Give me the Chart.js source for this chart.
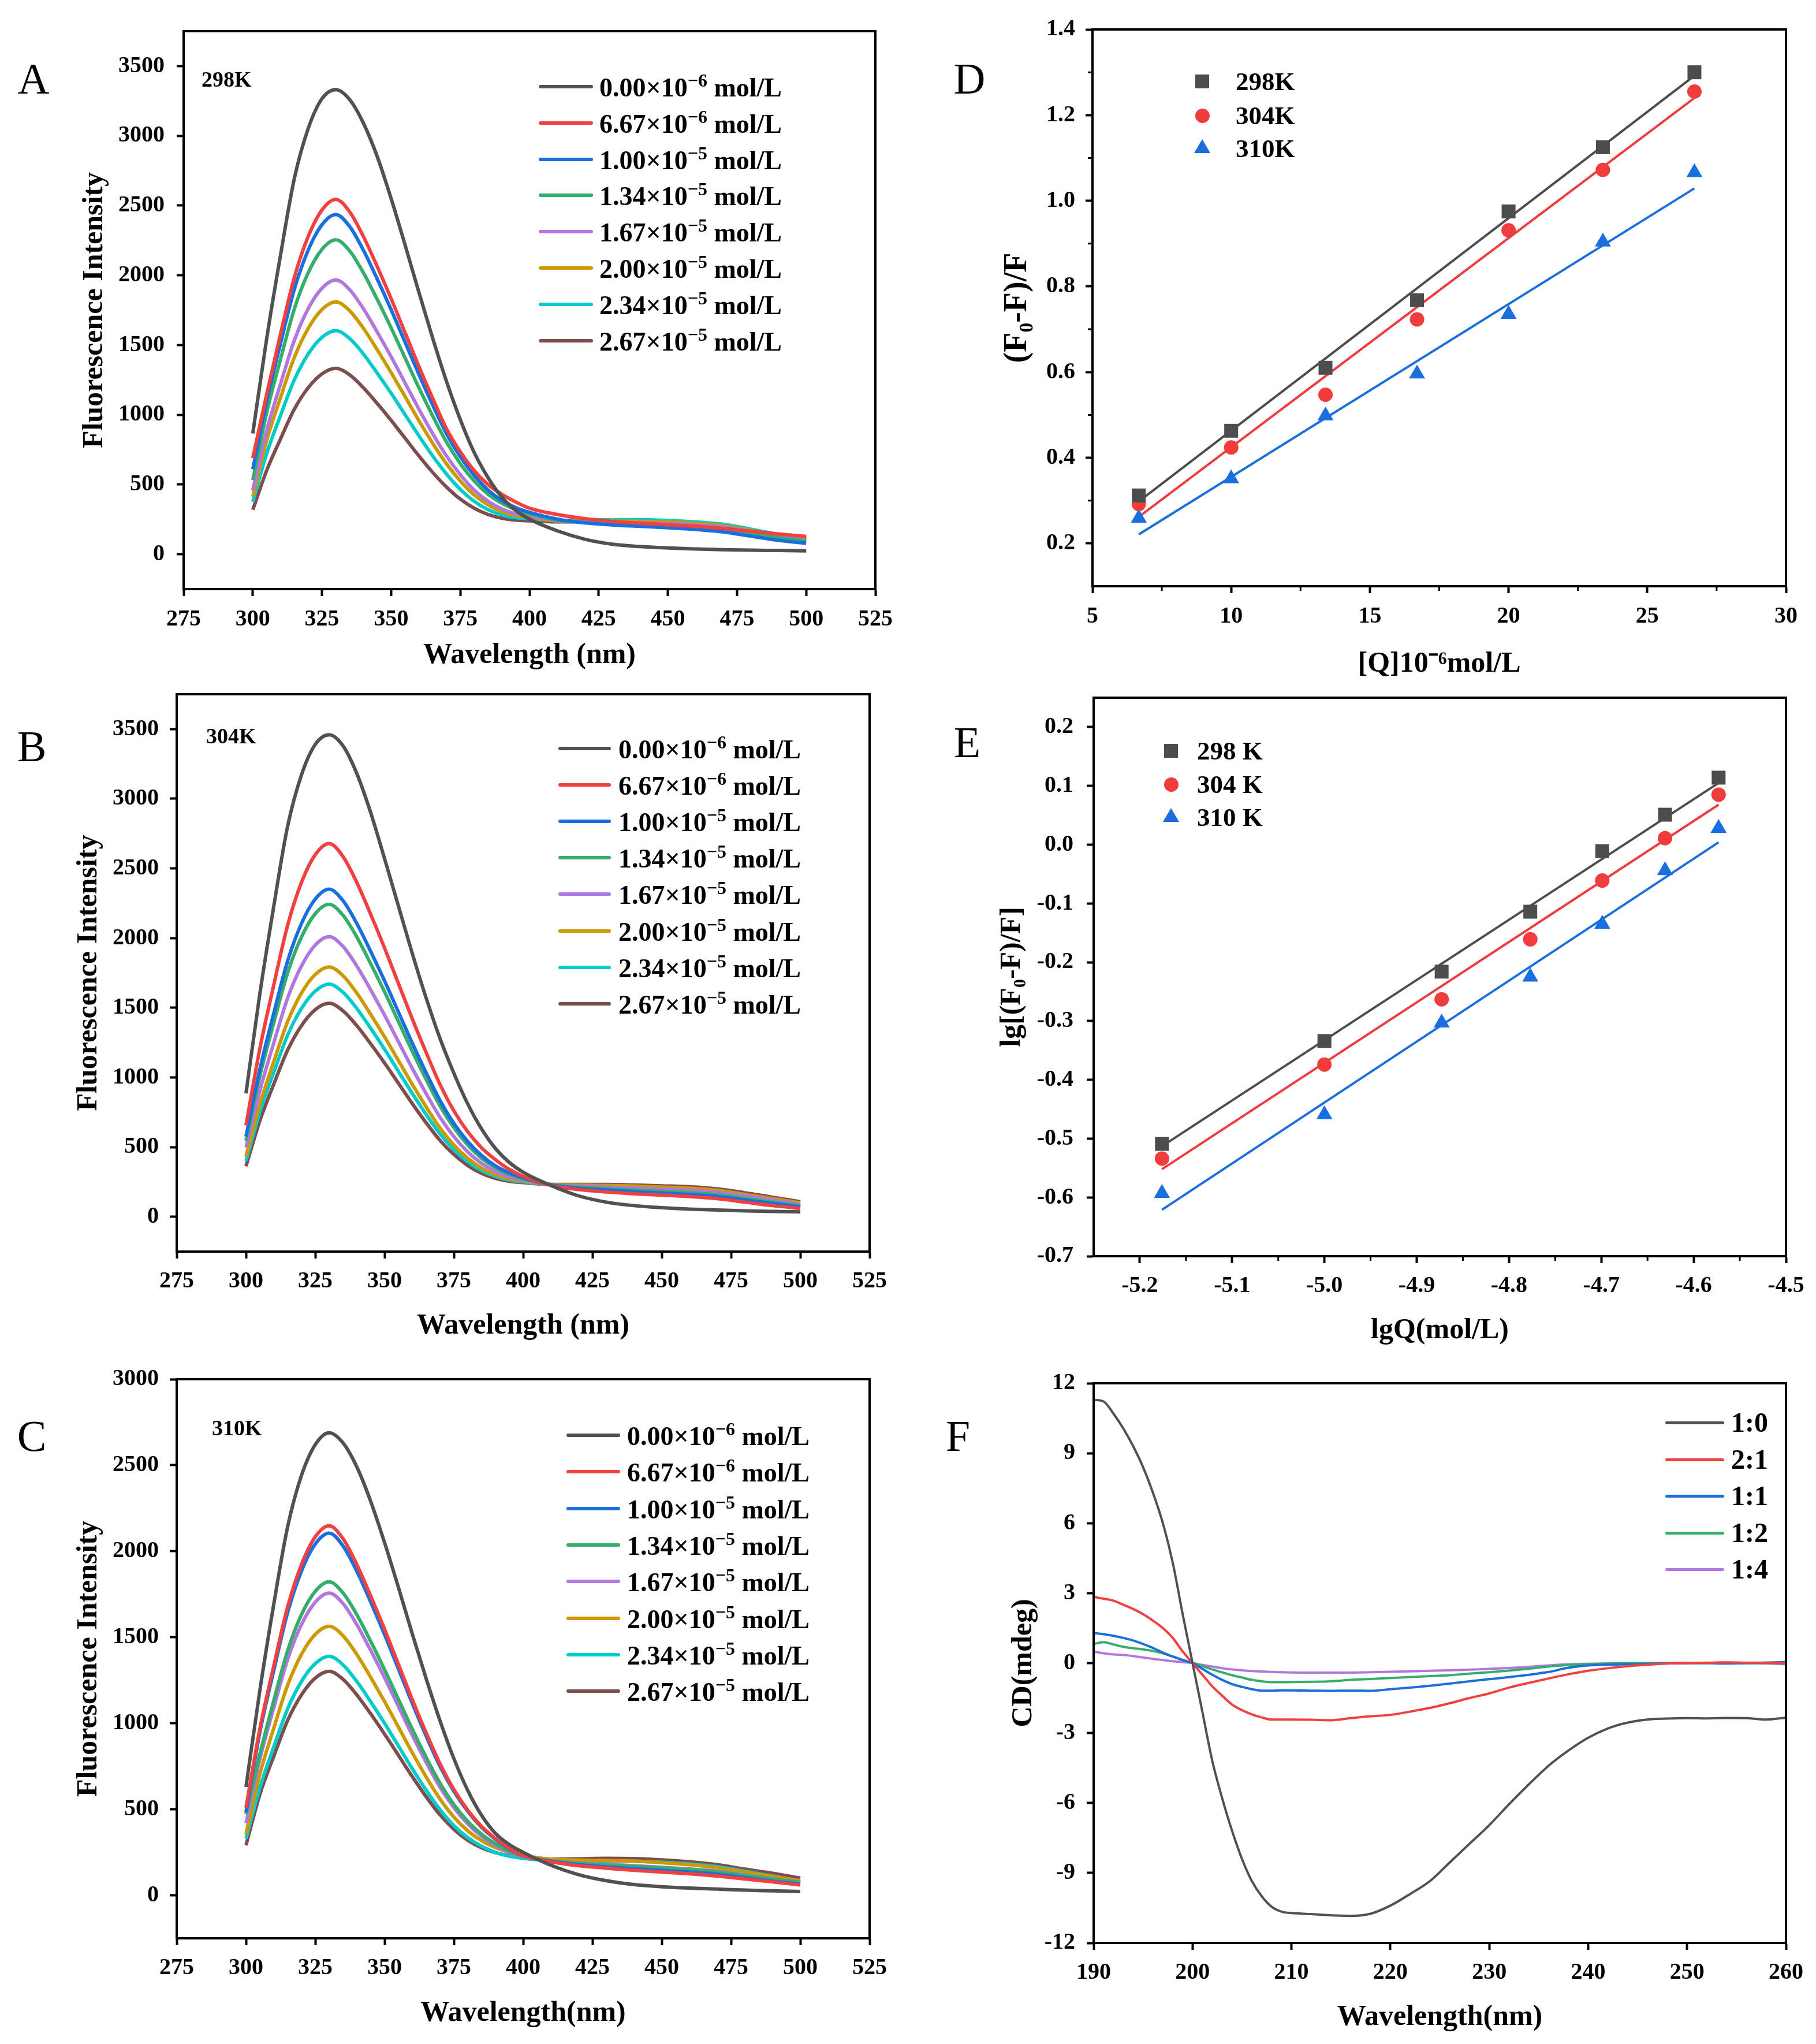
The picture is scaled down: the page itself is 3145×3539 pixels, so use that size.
<!DOCTYPE html>
<html>
<head>
<meta charset="utf-8">
<script src="https://cdn.jsdelivr.net/npm/chart.js@4.4.0/dist/chart.umd.min.js"></script>
<style>
  body { margin: 0; background: #fff; }
  #page { position: relative; width: 3145px; height: 3539px; background: #fff; overflow: hidden;
          font-family: "Liberation Serif", "Times New Roman", serif; color: #000; }
  #page canvas { position: absolute; }
  .lbl { position: absolute; white-space: nowrap; line-height: 1; }
  .letter { font-size: 76px; font-weight: normal; transform: translate(-50%, -50%); }
  .temp { font-size: 38px; font-weight: bold; transform: translateY(-50%); }
  .lg { font-size: 46px; font-weight: bold; transform: translateY(-50%); }
  .lg sup { font-size: 32px; vertical-align: baseline; position: relative; top: -17px; }
  .lgs { font-size: 45px; font-weight: bold; transform: translateY(-50%); }
  .lgf { font-size: 48px; font-weight: bold; transform: translateY(-50%); }
</style>
</head>
<body>
<div id="page"></div>
<script>
// ===== DATA =====

// fluorescence spectra, wavelength in nm
const WL = [300, 305, 310, 315, 320, 325, 330, 335, 340, 345, 350, 355, 360, 365, 370, 375, 380, 385, 390, 395,
            400, 410, 420, 430, 440, 450, 460, 470, 480, 490, 500];

const CONC_MANT = ['0.00', '6.67', '1.00', '1.34', '1.67', '2.00', '2.34', '2.67'];
const CONC_EXP  = ['−6', '−6', '−5', '−5', '−5', '−5', '−5', '−5'];

// 298 K
const T298_0 = [866,1543,2142,2692,3051,3266,3331,3260,3090,2850,2550,2220,1880,1550,1240,965,730,550,410,315, 252,168,108,72,55,45,38,33,29,27,24];
const T298_1 = [689,1145,1577,1984,2277,2468,2544,2455,2277,2061,1832,1590,1348,1119,900,735,600,500,430,375, 330,285,255,235,222,212,200,185,165,145,128];
const T298_2 = [610,1096,1510,1899,2179,2362,2435,2350,2179,1972,1753,1522,1291,1071,865,700,565,460,385,335, 300,252,225,210,200,190,178,160,130,100,78];
const T298_3 = [532,1014,1397,1758,2017,2186,2254,2175,2017,1826,1623,1409,1195,992,805,650,525,430,365,320, 290,245,228,220,215,208,198,182,150,120,95];
const T298_4 = [460,885,1219,1533,1760,1907,1966,1897,1760,1592,1416,1229,1042,865,705,570,460,380,325,290, 275,240,232,228,225,220,210,195,165,130,100];
const T298_5 = [413,814,1122,1411,1619,1755,1809,1746,1619,1465,1302,1131,959,796,648,525,425,355,305,278, 265,240,238,238,236,232,222,205,172,138,108];
const T298_6 = [376,721,994,1250,1435,1555,1603,1547,1435,1298,1154,1002,850,705,575,465,380,320,282,262, 255,242,245,248,248,242,232,215,180,140,100];
const T298_7 = [319,600,826,1040,1193,1293,1333,1286,1193,1080,960,833,706,587,482,395,330,285,258,245, 240,232,235,238,238,232,222,205,170,138,115];

// 304 K
const T304_0 = [885,1600,2225,2800,3170,3390,3459,3380,3180,2900,2570,2230,1890,1570,1280,1030,810,630,490,390, 320,225,150,105,80,65,55,48,42,38,35];
const T304_1 = [656,1206,1661,2090,2398,2599,2679,2585,2398,2170,1929,1674,1420,1179,950,760,610,495,410,340, 290,225,195,178,165,155,145,130,105,80,60];
const T304_2 = [576,1058,1458,1834,2104,2280,2351,2269,2104,1904,1693,1469,1246,1034,835,670,540,440,365,315, 280,228,205,192,180,170,160,145,120,95,70];
const T304_3 = [545,1009,1390,1749,2007,2175,2242,2164,2007,1816,1614,1401,1188,986,796,640,515,420,352,305, 272,230,212,200,190,182,172,158,132,105,80];
const T304_4 = [497,905,1246,1568,1799,1950,2010,1940,1799,1628,1447,1256,1065,884,714,575,465,383,325,285, 262,230,220,212,205,198,190,176,150,120,90];
const T304_5 = [433,807,1112,1399,1605,1739,1793,1730,1605,1452,1291,1121,950,789,637,515,420,350,302,272, 255,232,228,225,220,213,205,190,160,130,100];
const T304_6 = [401,751,1035,1302,1494,1619,1669,1611,1494,1352,1202,1043,885,734,595,482,395,332,290,264, 250,230,222,215,210,205,198,184,155,118,80];
const T304_7 = [363,689,950,1195,1371,1486,1532,1478,1371,1241,1103,958,812,674,548,447,368,312,276,255, 245,232,232,232,228,222,215,200,172,140,108];

// 310 K
const T310_0 = [630,1190,1690,2140,2440,2620,2689,2630,2490,2290,2050,1790,1520,1260,1015,795,610,465,360,295, 250,175,120,85,62,50,42,36,30,26,22];
const T310_1 = [509,967,1332,1675,1922,2084,2148,2073,1922,1740,1547,1343,1138,945,765,615,495,400,330,272, 230,195,172,158,145,135,125,112,95,78,60];
const T310_2 = [484,947,1305,1642,1884,2042,2105,2031,1884,1705,1516,1316,1116,926,750,605,488,395,326,270, 230,198,178,165,155,145,135,122,102,82,65];
const T310_3 = [471,820,1130,1421,1631,1767,1822,1758,1631,1476,1312,1139,966,802,652,528,430,355,300,258, 228,200,185,175,168,160,150,136,115,95,75];
const T310_4 = [419,791,1089,1370,1573,1704,1757,1696,1573,1423,1265,1098,931,773,628,510,415,343,290,250, 225,200,188,180,172,163,153,140,118,97,78];
const T310_5 = [355,704,970,1220,1400,1517,1564,1509,1400,1267,1126,978,829,688,560,455,375,318,278,250, 232,210,205,202,198,190,178,160,135,110,85];
const T310_6 = [329,625,861,1083,1243,1347,1389,1340,1243,1125,1000,868,736,611,498,405,335,285,250,227, 215,202,200,200,198,192,182,166,140,112,80];
const T310_7 = [291,586,807,1016,1165,1263,1302,1256,1165,1055,937,814,690,573,468,384,320,276,248,230, 222,210,212,215,213,206,195,178,152,128,100];

const FL_X_TICKS = [275, 300, 325, 350, 375, 400, 425, 450, 475, 500, 525];
const FL_Y_TICKS_AB = [0, 500, 1000, 1500, 2000, 2500, 3000, 3500];
const FL_Y_TICKS_C = [0, 500, 1000, 1500, 2000, 2500, 3000];

// Stern-Volmer plot
const D_X = [6.67, 10.0, 13.4, 16.7, 20.0, 23.4, 26.7];
const D_298 = [0.312, 0.463, 0.610, 0.768, 0.975, 1.125, 1.300];
const D_304 = [0.292, 0.424, 0.547, 0.723, 0.931, 1.072, 1.255];
const D_310 = [0.259, 0.351, 0.498, 0.596, 0.735, 0.904, 1.066];
const D_FIT_X = [6.67, 26.7];
const D_FIT_298 = [0.298, 1.292];
const D_FIT_304 = [0.262, 1.240];
const D_FIT_310 = [0.221, 1.029];
const D_X_TICKS = [5, 10, 15, 20, 25, 30];
const D_Y_TICKS = [0.2, 0.4, 0.6, 0.8, 1.0, 1.2, 1.4];
const D_LABELS = ['298K', '304K', '310K'];

// double-log plot
const E_X = [-5.176, -5.000, -4.873, -4.777, -4.699, -4.631, -4.573];
const E_298 = [-0.509, -0.334, -0.216, -0.114, -0.011, 0.051, 0.114];
const E_304 = [-0.534, -0.374, -0.263, -0.161, -0.061, 0.011, 0.085];
const E_310 = [-0.593, -0.459, -0.303, -0.225, -0.135, -0.044, 0.028];
const E_FIT_X = [-5.176, -4.573];
const E_FIT_298 = [-0.513, 0.105];
const E_FIT_304 = [-0.552, 0.068];
const E_FIT_310 = [-0.621, 0.004];
const E_X_TICKS = [-5.2, -5.1, -5.0, -4.9, -4.8, -4.7, -4.6, -4.5];
const E_Y_TICKS = [-0.7, -0.6, -0.5, -0.4, -0.3, -0.2, -0.1, 0.0, 0.1, 0.2];
const E_LABELS = ['298 K', '304 K', '310 K'];

// CD spectra
const CD_WL = [190,191,192,193,194,195,196,197,198,199,200,201,202,203,204,205,206,207,208,209,210,
               212,214,216,218,220,222,224,226,228,230,232,234,236,238,240,242,244,246,248,250,252,254,256,258,260];
const CD_1_0 = [11.29,11.22,10.7,10.06,9.3,8.4,7.3,6.0,4.3,2.1,0.0,-2.1,-4.2,-5.8,-7.2,-8.4,-9.35,-10.0,-10.45,-10.66,-10.72,
                -10.76,-10.82,-10.84,-10.75,-10.4,-9.9,-9.35,-8.55,-7.75,-6.95,-6.05,-5.2,-4.4,-3.75,-3.2,-2.8,-2.55,-2.42,-2.38,-2.36,-2.37,-2.35,-2.36,-2.42,-2.34];
const CD_2_1 = [2.84,2.76,2.68,2.5,2.32,2.1,1.82,1.5,1.08,0.5,0.0,-0.5,-1.0,-1.4,-1.78,-2.02,-2.2,-2.33,-2.42,-2.42,-2.42,
                -2.43,-2.45,-2.36,-2.28,-2.22,-2.08,-1.92,-1.72,-1.5,-1.3,-1.05,-0.85,-0.66,-0.48,-0.33,-0.22,-0.13,-0.07,-0.02,0.0,0.01,0.03,0.02,0.02,0.0];
const CD_1_1 = [1.29,1.24,1.17,1.08,0.97,0.82,0.65,0.45,0.28,0.13,0.0,-0.25,-0.5,-0.72,-0.9,-1.02,-1.12,-1.18,-1.18,-1.17,-1.17,
                -1.18,-1.19,-1.18,-1.19,-1.12,-1.05,-0.97,-0.88,-0.78,-0.69,-0.6,-0.5,-0.38,-0.2,-0.1,-0.07,-0.05,-0.03,-0.01,0.0,0.0,-0.02,0.0,0.02,0.05];
const CD_1_2 = [0.82,0.9,0.8,0.7,0.64,0.59,0.52,0.42,0.28,0.13,0.0,-0.13,-0.27,-0.4,-0.52,-0.62,-0.72,-0.78,-0.82,-0.82,-0.81,
                -0.8,-0.78,-0.72,-0.68,-0.64,-0.6,-0.56,-0.52,-0.45,-0.39,-0.32,-0.24,-0.15,-0.08,-0.05,-0.02,0.0,0.0,0.0,0.0,0.0,0.0,0.0,0.0,0.0];
const CD_1_4 = [0.5,0.42,0.37,0.35,0.3,0.24,0.18,0.13,0.08,0.04,0.0,-0.08,-0.15,-0.22,-0.27,-0.31,-0.34,-0.36,-0.38,-0.39,-0.4,
                -0.41,-0.41,-0.41,-0.39,-0.37,-0.35,-0.33,-0.31,-0.28,-0.25,-0.21,-0.16,-0.1,-0.05,-0.03,-0.02,-0.02,-0.01,0.0,0.0,0.02,0.02,0.0,-0.02,-0.05];
const CD_LABELS = ['1:0', '2:1', '1:1', '1:2', '1:4'];
const CD_X_TICKS = [190, 200, 210, 220, 230, 240, 250, 260];
const CD_Y_TICKS = [-12, -9, -6, -3, 0, 3, 6, 9, 12];

// Origin-like palette
const COLORS = ['#515151', '#F14040', '#1A6FDF', '#37AD6B', '#B177DE', '#CC9900', '#00CBCC', '#7D4E4E'];

// ===== DRAWING =====

const page = document.getElementById('page');
const FONT = '"Liberation Serif", "Times New Roman", serif';
Chart.defaults.font.family = FONT;
Chart.defaults.color = '#000';

// box round the plot + minor ticks
const frame = {
  id: 'frame',
  afterDraw(chart, args, opts) {
    const { ctx, chartArea: a } = chart;
    ctx.save();
    ctx.strokeStyle = '#000';
    ctx.lineWidth = 4;
    ctx.strokeRect(a.left, a.top, a.right - a.left, a.bottom - a.top);
    ctx.lineWidth = 3;
    ctx.beginPath();
    (opts.minorX || []).forEach(v => {
      const p = chart.scales.x.getPixelForValue(v);
      ctx.moveTo(p, a.bottom); ctx.lineTo(p, a.bottom + 8);
    });
    (opts.minorY || []).forEach(v => {
      const p = chart.scales.y.getPixelForValue(v);
      ctx.moveTo(a.left, p); ctx.lineTo(a.left - 8, p);
    });
    ctx.stroke();
    ctx.restore();
  },
};

const TL = 12, TICK_SIZE = 40;

function panel(s) {
  const cv = document.createElement('canvas');
  cv.width = s.box.w; cv.height = s.box.h;
  cv.style.left = s.box.x + 'px'; cv.style.top = s.box.y + 'px';
  cv.style.width = s.box.w + 'px'; cv.style.height = s.box.h + 'px';
  page.appendChild(cv);

  const yTS = s.yTitleSize || 50, xTS = s.xTitleSize || 50;
  const padL = s.yTitleX - yTS * 0.6 - s.box.x;
  const yW = s.plot.l - s.box.x - padL;
  const padT = s.plot.t - s.box.y;
  const padR = s.box.x + s.box.w - s.plot.r;
  const xBottom = s.xTitleY + xTS * 0.6;
  const xH = xBottom - s.plot.b;
  const padB = s.box.y + s.box.h - xBottom;
  const xPad = s.xLabelY - s.plot.b - TL - TICK_SIZE * 0.6;
  const yPad = s.plot.l - s.yLabelR - TL;

  const axis = (o, pad, title, tsize) => ({
    type: 'linear', min: o.min, max: o.max,
    afterBuildTicks: sc => { sc.ticks = o.ticks.map(v => ({ value: v })); },
    ticks: {
      autoSkip: false, maxRotation: 0, padding: pad, color: '#000',
      font: { size: TICK_SIZE, weight: 'bold', family: FONT },
      callback: o.fmt || (v => String(v)),
    },
    grid: { drawOnChartArea: false, drawTicks: true, tickLength: TL, tickWidth: 4, color: '#000', tickColor: '#000' },
    border: { display: true, width: 4, color: '#000' },
    title: { display: true, text: title, color: '#000', padding: 0,
             font: { size: tsize, weight: 'bold', family: FONT, lineHeight: 1.2 } },
  });

  const xAxis = axis(s.x, xPad, s.xTitle, xTS);
  xAxis.afterFit = sc => { sc.height = xH; sc.paddingLeft = 0; sc.paddingRight = 0; };
  const yAxis = axis(s.y, yPad, s.yTitle, yTS);
  yAxis.afterFit = sc => { sc.width = yW; sc.paddingTop = 0; sc.paddingBottom = 0; };

  return new Chart(cv, {
    type: s.type,
    data: { datasets: s.datasets },
    options: {
      responsive: false, animation: false, devicePixelRatio: 1,
      layout: { padding: { left: padL, right: padR, top: padT, bottom: padB } },
      plugins: { legend: { display: false }, tooltip: { enabled: false },
                 frame: { minorX: s.minorX, minorY: s.minorY } },
      scales: { x: xAxis, y: yAxis },
    },
    plugins: [frame],
  });
}

const xy = (xs, ys) => xs.map((x, i) => ({ x, y: ys[i] }));

function spectra(series, widthPx) {
  return series.map((vals, i) => ({
    data: xy(WL, vals), borderColor: COLORS[i], borderWidth: widthPx,
    pointRadius: 0, cubicInterpolationMode: 'monotone', fill: false, order: i,
  }));
}

const flX = { min: 275, max: 525, ticks: FL_X_TICKS };

panel({
  type: 'line',
  box: { x: 0, y: 0, w: 1570, h: 1185 }, plot: { l: 318, r: 1516, t: 54, b: 1020 },
  yTitleX: 164, xTitleY: 1135, xLabelY: 1073, yLabelR: 285,
  x: flX, y: { min: -250, max: 3750, ticks: FL_Y_TICKS_AB },
  xTitle: 'Wavelength (nm)', yTitle: 'Fluorescence Intensity',
  datasets: spectra([T298_0, T298_1, T298_2, T298_3, T298_4, T298_5, T298_6, T298_7], 6),
});

panel({
  type: 'line',
  box: { x: 0, y: 1185, w: 1570, h: 1160 }, plot: { l: 306, r: 1506, t: 1202, b: 2167 },
  yTitleX: 154, xTitleY: 2296, xLabelY: 2219, yLabelR: 275,
  x: flX, y: { min: -250, max: 3750, ticks: FL_Y_TICKS_AB },
  xTitle: 'Wavelength (nm)', yTitle: 'Fluorescence Intensity',
  datasets: spectra([T304_0, T304_1, T304_2, T304_3, T304_4, T304_5, T304_6, T304_7], 6),
});

panel({
  type: 'line',
  box: { x: 0, y: 2345, w: 1570, h: 1194 }, plot: { l: 306, r: 1506, t: 2388, b: 3356 },
  yTitleX: 154, xTitleY: 3486, xLabelY: 3408, yLabelR: 275,
  x: flX, y: { min: -250, max: 3000, ticks: FL_Y_TICKS_C },
  xTitle: 'Wavelength(nm)', yTitle: 'Fluorescence Intensity',
  datasets: spectra([T310_0, T310_1, T310_2, T310_3, T310_4, T310_5, T310_6, T310_7], 6),
});

const MARKERS = [
  { style: 'rect', r: 17, color: '#4D4D4D' },
  { style: 'circle', r: 12.5, color: '#F03C3C' },
  { style: 'triangle', r: 16, color: '#1A6FDF' },
];

function fitPlot(xs, sets, fitX, fits) {
  const ds = [];
  sets.forEach((ys, i) => ds.push({
    data: xy(xs, ys), showLine: false, pointStyle: MARKERS[i].style, pointRadius: MARKERS[i].r,
    backgroundColor: MARKERS[i].color, borderColor: MARKERS[i].color, borderWidth: 0, order: 1,
  }));
  fits.forEach((ys, i) => ds.push({
    data: xy(fitX, ys), showLine: true, pointRadius: 0, borderColor: MARKERS[i].color,
    borderWidth: 4, order: 2,
  }));
  return ds;
}

panel({
  type: 'scatter',
  box: { x: 1570, y: 0, w: 1575, h: 1185 }, plot: { l: 1892, r: 3093, t: 51, b: 1015 },
  yTitleX: 1763, xTitleY: 1150, xLabelY: 1068, yLabelR: 1862, yTitleSize: 56,
  x: { min: 5, max: 30, ticks: D_X_TICKS },
  y: { min: 0.1, max: 1.4, ticks: D_Y_TICKS, fmt: v => v.toFixed(1) },
  minorX: [7.5, 12.5, 17.5, 22.5, 27.5], minorY: [0.3, 0.5, 0.7, 0.9, 1.1, 1.3],
  xTitle: '[Q]10⁻⁶mol/L', yTitle: '(F₀-F)/F',
  datasets: fitPlot(D_X, [D_298, D_304, D_310], D_FIT_X, [D_FIT_298, D_FIT_304, D_FIT_310]),
});

panel({
  type: 'scatter',
  box: { x: 1570, y: 1185, w: 1575, h: 1160 }, plot: { l: 1894, r: 3093, t: 1208, b: 2175 },
  yTitleX: 1753, xTitleY: 2304, xLabelY: 2227, yLabelR: 1859,
  x: { min: -5.25, max: -4.5, ticks: E_X_TICKS, fmt: v => v.toFixed(1) },
  y: { min: -0.7, max: 0.25, ticks: E_Y_TICKS, fmt: v => v.toFixed(1) },
  minorX: [-5.15, -5.05, -4.95, -4.85, -4.75, -4.65, -4.55],
  xTitle: 'lgQ(mol/L)', yTitle: 'lg[(F₀-F)/F]',
  datasets: fitPlot(E_X, [E_298, E_304, E_310], E_FIT_X, [E_FIT_298, E_FIT_304, E_FIT_310]),
});

panel({
  type: 'line',
  box: { x: 1570, y: 2345, w: 1575, h: 1194 }, plot: { l: 1894, r: 3093, t: 2395, b: 3364 },
  yTitleX: 1773, xTitleY: 3493, xLabelY: 3416, yLabelR: 1862,
  x: { min: 190, max: 260, ticks: CD_X_TICKS },
  y: { min: -12, max: 12, ticks: CD_Y_TICKS },
  xTitle: 'Wavelength(nm)', yTitle: 'CD(mdeg)',
  datasets: [CD_1_0, CD_2_1, CD_1_1, CD_1_2, CD_1_4].map((vals, i) => ({
    data: xy(CD_WL, vals), borderColor: COLORS[i], borderWidth: 4, pointRadius: 0,
    cubicInterpolationMode: 'monotone', fill: false,
  })),
});

// ===== HTML LABELS AND LEGENDS =====

function label(cls, html, x, y) {
  const d = document.createElement('div');
  d.className = 'lbl ' + cls;
  d.innerHTML = html;
  d.style.left = x + 'px'; d.style.top = y + 'px';
  page.appendChild(d);
  return d;
}

function swatch(color, x1, x2, y, h) {
  const d = document.createElement('div');
  d.style.cssText = `position:absolute;left:${x1}px;top:${y - h / 2}px;width:${x2 - x1}px;height:${h}px;background:${color};border-radius:${h / 2}px`;
  page.appendChild(d);
}

function markerDiv(m, cx, cy) {
  const d = document.createElement('div');
  d.style.position = 'absolute';
  if (m.style === 'rect') {
    d.style.cssText += `left:${cx - 12}px;top:${cy - 12}px;width:24px;height:24px;background:${m.color}`;
  } else if (m.style === 'circle') {
    d.style.cssText += `left:${cx - 12.5}px;top:${cy - 12.5}px;width:25px;height:25px;border-radius:50%;background:${m.color}`;
  } else {
    d.style.cssText += `left:${cx - 14}px;top:${cy - 16}px;width:0;height:0;border-left:14px solid transparent;border-right:14px solid transparent;border-bottom:24px solid ${m.color}`;
  }
  page.appendChild(d);
}

[['A', 58, 136], ['B', 55, 1292], ['C', 55, 2486], ['D', 1679, 136], ['E', 1675, 1285], ['F', 1659, 2486]]
  .forEach(([t, x, y]) => label('letter', t, x, y));

label('temp', '298K', 349, 137);
label('temp', '304K', 357, 1274);
label('temp', '310K', 367, 2472);

[{ x1: 933, x2: 1027, tx: 1038, y0: 150, dy: 62.8 },
 { x1: 967, x2: 1058, tx: 1071, y0: 1296, dy: 63.1 },
 { x1: 981, x2: 1074, tx: 1086, y0: 2485, dy: 63.3 }].forEach(L => {
  CONC_MANT.forEach((m, i) => {
    const y = L.y0 + i * L.dy;
    swatch(COLORS[i], L.x1, L.x2, y, 6);
    label('lg', `${m}×10<sup>${CONC_EXP[i]}</sup> mol/L`, L.tx, y + 2);
  });
});

D_LABELS.forEach((t, i) => {
  const y = [141, 200, 257][i];
  markerDiv(MARKERS[i], 2082, y);
  label('lgs', t, 2140, y);
});
E_LABELS.forEach((t, i) => {
  const y = [1300, 1358, 1415][i];
  markerDiv(MARKERS[i], 2028, y);
  label('lgs', t, 2073, y);
});
CD_LABELS.forEach((t, i) => {
  const y = [2463, 2527, 2590, 2654, 2717][i];
  swatch(COLORS[i], 2884, 2986, y, 5);
  label('lgf', t, 2998, y);
});
</script>
</body>
</html>
